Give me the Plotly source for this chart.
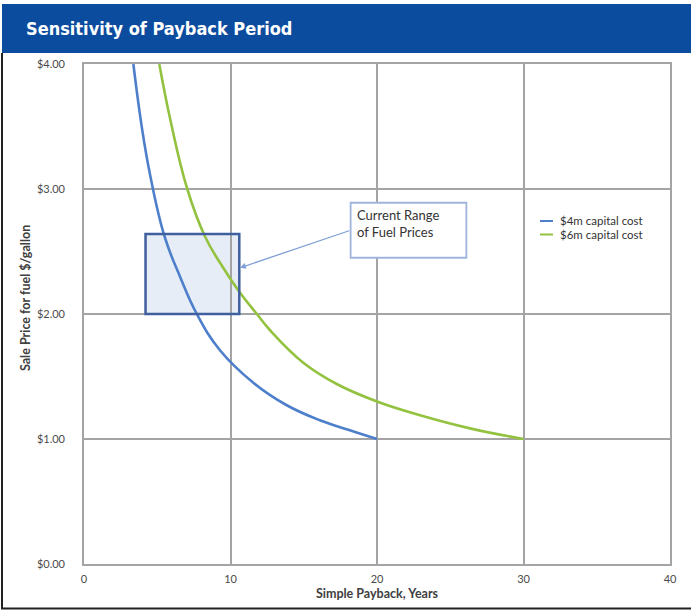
import plotly.graph_objects as go

# Payback curves: (simple payback in years, sale price $/gallon)
series_names = ["$4m capital cost", "$6m capital cost"]
series_colors = ["#4d7fcb", "#93c240"]

years_4m = [3.37, 3.94, 4.5, 5.5, 6.55, 7.7, 9.28, 11.56, 13.84, 16.1, 18.4, 20.0]
price_4m = [4.00, 3.50, 3.12, 2.62, 2.30, 2.00, 1.71, 1.45, 1.27, 1.15, 1.06, 1.00]

years_6m = [5.14, 5.9, 7.05, 8.26, 9.5, 10.65, 11.8, 12.7, 14.97, 17.25, 20.0, 22.94, 26.35, 30.0]
price_6m = [4.00, 3.55, 3.00, 2.62, 2.37, 2.17, 2.00, 1.87, 1.61, 1.44, 1.30, 1.19, 1.085, 1.00]

# Highlighted region: current fuel price range vs payback window
payback_window = [4.2, 10.6]
fuel_price_range = [2.00, 2.64]

x_ticks = [0, 10, 20, 30, 40]
y_ticks = [0, 1, 2, 3, 4]
y_tick_text = ["$0.00", "$1.00", "$2.00", "$3.00", "$4.00"]

callout_text = "Current Range<br>of Fuel Prices"
callout_box_x = [18.2, 26.1]
callout_box_y = [2.45, 2.89]

W, H = 691, 611
L, R, T, B = 84, 21, 64, 47
pw, ph = W - L - R, H - T - B


def px_x(px):
    return (px - L) / pw


def px_y(py):
    return (H - B - py) / ph


fig = go.Figure()

for name, color, xs, ys in [
    (series_names[0], series_colors[0], years_4m, price_4m),
    (series_names[1], series_colors[1], years_6m, price_6m),
]:
    fig.add_trace(go.Scatter(
        x=xs, y=ys, mode="lines", name=name,
        line=dict(color=color, width=2.6, shape="spline", smoothing=1.2),
        showlegend=False,
    ))

axis_font = dict(family="Lato, Open Sans, sans-serif", size=11, color="#4a4a4a")
title_font = dict(family="Lato, sans-serif", size=12.5, color="#404040")

fig.update_layout(
    width=W, height=H,
    margin=dict(l=L, r=R, t=T, b=B),
    paper_bgcolor="white",
    plot_bgcolor="white",
    showlegend=False,
    xaxis=dict(
        range=[0, 40], tickvals=x_ticks, showgrid=True, gridcolor="#a4a4a4", gridwidth=1.6,
        zeroline=False, showline=True, linecolor="#a4a4a4", linewidth=1.6, mirror=True,
        tickfont=axis_font, ticks="", ticklabelstandoff=4,
        title=dict(text="<b>Simple Payback, Years</b>", font=title_font, standoff=5),
    ),
    yaxis=dict(
        range=[0, 4], tickvals=y_ticks, ticktext=y_tick_text, showgrid=True, gridcolor="#a4a4a4", gridwidth=1.6,
        zeroline=False, showline=True, linecolor="#a4a4a4", linewidth=1.6, mirror=True,
        tickfont=axis_font, ticks="", ticklabelstandoff=15,
    ),
)

shapes = []
# shaded price range box (fill beneath curves, outline on top)
shapes.append(dict(type="rect", xref="x", yref="y", layer="below",
                   x0=payback_window[0], x1=payback_window[1], y0=fuel_price_range[0], y1=fuel_price_range[1],
                   fillcolor="#e6edf6", line=dict(width=0)))
shapes.append(dict(type="rect", xref="x", yref="y", layer="above",
                   x0=payback_window[0], x1=payback_window[1], y0=fuel_price_range[0], y1=fuel_price_range[1],
                   fillcolor="rgba(0,0,0,0)", line=dict(color="#3f5f9e", width=2.5)))
# callout box
shapes.append(dict(type="rect", xref="x", yref="y", layer="above",
                   x0=callout_box_x[0], x1=callout_box_x[1], y0=callout_box_y[0], y1=callout_box_y[1],
                   fillcolor="white", line=dict(color="#9fb4dc", width=1.8)))

# header bar
shapes.append(dict(type="rect", xref="paper", yref="paper", layer="above",
                   x0=px_x(2), x1=px_x(692), y0=px_y(53), y1=px_y(4),
                   fillcolor="#0c4c9e", line=dict(width=0)))
# page frame (left and bottom rules)
shapes.append(dict(type="line", xref="paper", yref="paper",
                   x0=px_x(2), x1=px_x(2), y0=px_y(53), y1=px_y(609),
                   line=dict(color="#222222", width=2)))
shapes.append(dict(type="line", xref="paper", yref="paper",
                   x0=px_x(1), x1=px_x(692), y0=px_y(608.5), y1=px_y(608.5),
                   line=dict(color="#222222", width=2)))

# legend samples
legend_y_px = [221, 234.5]
for color, ly in zip(series_colors, legend_y_px):
    shapes.append(dict(type="line", xref="paper", yref="paper",
                       x0=px_x(540), x1=px_x(553), y0=px_y(ly), y1=px_y(ly),
                       line=dict(color=color, width=2)))

fig.update_layout(shapes=shapes)

annotations = [
    dict(text="<b>Sensitivity of Payback Period</b>", xref="paper", yref="paper",
         x=px_x(24), y=px_y(29), xanchor="left", yanchor="middle", showarrow=False,
         font=dict(family="DejaVu Sans Condensed, DejaVu Sans, sans-serif", size=18, color="white")),
    # y axis title
    dict(text="<b>Sale Price for fuel $/gallon</b>", xref="paper", yref="paper",
         x=px_x(25), y=px_y(298), xanchor="center", yanchor="middle", textangle=-90,
         showarrow=False, font=title_font),
    dict(text=callout_text, xref="x", yref="y", x=callout_box_x[0] + 0.3, y=callout_box_y[1] - 0.02,
         xanchor="left", yanchor="top", align="left", showarrow=False,
         font=dict(family="Lato, sans-serif", size=13, color="#333333")),
    # arrow from callout to the highlighted range
    dict(text="", xref="x", yref="y", x=payback_window[1] + 0.05, y=2.37,
         axref="x", ayref="y", ax=callout_box_x[0], ay=2.67,
         showarrow=True, arrowhead=2, arrowsize=0.9, arrowwidth=1.3, arrowcolor="#7f9fd6"),
]
for name, ly in zip(series_names, legend_y_px):
    annotations.append(dict(text=name, xref="paper", yref="paper", x=px_x(558), y=px_y(ly),
                            xanchor="left", yanchor="middle", showarrow=False,
                            font=dict(family="Lato, sans-serif", size=11.5, color="#333333")))
fig.update_layout(annotations=annotations)

fig.write_html("out.html")
